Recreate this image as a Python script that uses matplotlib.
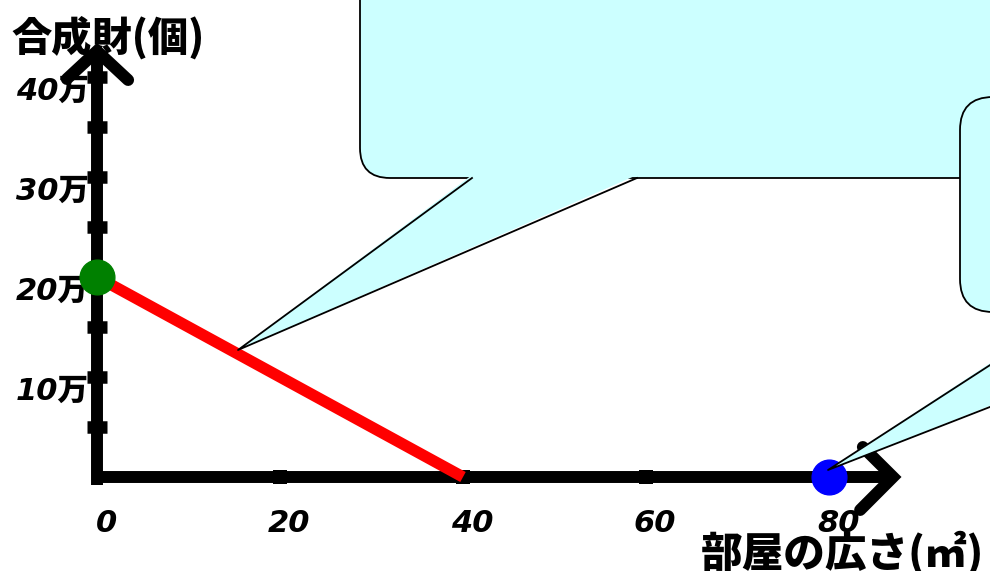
import numpy as np
import matplotlib
matplotlib.use('Agg')
import matplotlib.pyplot as plt
from matplotlib.patches import FancyBboxPatch, Polygon
from matplotlib.transforms import Affine2D

# data: budget line and corner points
budget_x = [0, 40]          # 部屋の広さ (m2)
budget_y = [20, 0]          # 合成財 (万個)
green_pt = (0, 20)
blue_pt = (80, 0)
x_ticks = [20, 40, 60]
x_labels = [0, 20, 40, 60, 80]
y_ticks = [5, 10, 15, 20, 25, 30, 35, 40]
y_labels = [10, 20, 30, 40]

W, H = 990, 571
fig = plt.figure(figsize=(W/100, H/100), dpi=100)
ax = fig.add_axes([0, 0, 1, 1])
# pixel scale: 9.15 px per m2, 10 px per 万
ax.set_xlim(-97/9.15, (W-97)/9.15)
ax.set_ylim((477-H)/10, 477/10)
ax.axis('off')

num_font = dict(family=['DejaVu Sans', 'Noto Sans CJK JP'], weight='heavy',
                style='italic', fontsize=22)
jp_font = dict(family=['Noto Sans CJK JP', 'DejaVu Sans'], weight='black')

# axes with arrow heads
lw = 8.6
ax.plot([0, 0], [-0.8, 42.5], color='black', lw=lw, solid_capstyle='butt', zorder=2)
ax.plot([-0.6, 86.5], [0, 0], color='black', lw=lw, solid_capstyle='butt', zorder=2)
ax.plot([-3.3, 0, 3.4], [39.8, 42.6, 39.7], color='black', lw=lw,
        solid_capstyle='round', solid_joinstyle='miter', zorder=2)
ax.plot([83.7, 87.0, 83.4], [3.0, 0, -3.3], color='black', lw=lw,
        solid_capstyle='round', solid_joinstyle='miter', zorder=2)

# tick marks
ax.plot(np.zeros(len(y_ticks)), y_ticks, linestyle='None', marker='_',
        markersize=14, color='black', markeredgewidth=9, zorder=2)
ax.plot(x_ticks, np.zeros(len(x_ticks)), linestyle='None', marker='s',
        markersize=10, color='black', markeredgewidth=0, zorder=2)

for v in y_labels:
    ax.text(-0.9, v - 1.4, f'{v}万', ha='right', va='center', **num_font)
for v in x_labels:
    ax.text(v + 1.0, -4.7, str(v), ha='center', va='center', **num_font)

# budget line and points
ax.plot(budget_x, budget_y, color='red', lw=8.2, solid_capstyle='butt', zorder=3)
ax.plot(*green_pt, 'o', color='green', markersize=25, zorder=4)
ax.plot(*blue_pt, 'o', color='blue', markersize=25, zorder=4)

# axis titles
ax.text(-9.3, 43.9, '合成財(個)', ha='left', va='center', fontsize=29, **jp_font)
ax.text(81.5, -7.6, '部屋の広さ(㎡)', ha='center', va='center', fontsize=30, **jp_font)

# callouts in pixel coordinates (top-left origin)
px = Affine2D().scale(1/W, -1/H).translate(0, 1) + fig.transFigure
fill = '#ccffff'

def callout(x0, y0, x1, y1, r, base, tip):
    box = FancyBboxPatch((x0, y0), x1-x0, y1-y0, boxstyle=f'round,pad=0,rounding_size={r}',
                         facecolor=fill, edgecolor='black', lw=1.3, transform=px, zorder=6)
    ax.add_patch(box)
    tail = Polygon([(base[0], y1-3), (base[1], y1-3), tip], closed=True,
                   facecolor=fill, edgecolor='none', transform=px, zorder=6)
    ax.add_patch(tail)
    ax.plot([base[0], tip[0], base[1]], [y1, tip[1], y1], color='black', lw=1.3,
            transform=px, zorder=6)

callout(360, -60, 1060, 178, 30, (472, 637), (238, 350))
callout(960, 97, 1300, 312, 33, (1072, 1234), (828, 470))

fig.savefig('out.png', dpi=100)
